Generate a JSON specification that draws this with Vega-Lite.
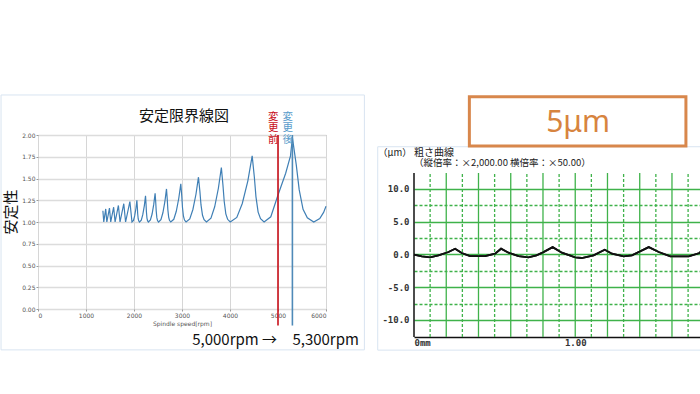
{
  "$schema": "https://vega.github.io/schema/vega-lite/v6.json",
  "background": "white",
  "padding": {"left": 0, "top": 93, "right": 0, "bottom": 0},
  "spacing": 11,
  "config": {"font": "Noto Sans", "view": {"stroke": null}},
  "datasets": {
    "lobes": [
      {"rpm": 1352, "stability": 1.13}, {"rpm": 1370, "stability": 1.0},
      {"rpm": 1411, "stability": 1.15}, {"rpm": 1434, "stability": 1.0},
      {"rpm": 1489, "stability": 1.16}, {"rpm": 1515, "stability": 1.0},
      {"rpm": 1576, "stability": 1.17}, {"rpm": 1606, "stability": 1.0},
      {"rpm": 1675, "stability": 1.19}, {"rpm": 1709, "stability": 1.0},
      {"rpm": 1787, "stability": 1.21}, {"rpm": 1825, "stability": 1.0},
      {"rpm": 1914, "stability": 1.235}, {"rpm": 1958, "stability": 1.0},
      {"rpm": 1989, "stability": 1.018}, {"rpm": 2014, "stability": 1.07}, {"rpm": 2040, "stability": 1.155},
      {"rpm": 2060, "stability": 1.25}, {"rpm": 2070, "stability": 1.17}, {"rpm": 2077, "stability": 1.095},
      {"rpm": 2087, "stability": 1.038}, {"rpm": 2098, "stability": 1.013}, {"rpm": 2114, "stability": 1.0},
      {"rpm": 2152, "stability": 1.021}, {"rpm": 2183, "stability": 1.084}, {"rpm": 2215, "stability": 1.186},
      {"rpm": 2240, "stability": 1.3}, {"rpm": 2251, "stability": 1.204}, {"rpm": 2259, "stability": 1.114},
      {"rpm": 2270, "stability": 1.045}, {"rpm": 2282, "stability": 1.015}, {"rpm": 2300, "stability": 1.0},
      {"rpm": 2342, "stability": 1.023}, {"rpm": 2377, "stability": 1.092}, {"rpm": 2412, "stability": 1.205},
      {"rpm": 2440, "stability": 1.33}, {"rpm": 2453, "stability": 1.224}, {"rpm": 2463, "stability": 1.125},
      {"rpm": 2476, "stability": 1.05}, {"rpm": 2490, "stability": 1.017}, {"rpm": 2511, "stability": 1.0},
      {"rpm": 2561, "stability": 1.027}, {"rpm": 2602, "stability": 1.106}, {"rpm": 2644, "stability": 1.236},
      {"rpm": 2677, "stability": 1.38}, {"rpm": 2693, "stability": 1.258}, {"rpm": 2705, "stability": 1.144},
      {"rpm": 2722, "stability": 1.057}, {"rpm": 2739, "stability": 1.019}, {"rpm": 2766, "stability": 1.0},
      {"rpm": 2829, "stability": 1.031}, {"rpm": 2881, "stability": 1.123}, {"rpm": 2933, "stability": 1.273},
      {"rpm": 2975, "stability": 1.44}, {"rpm": 2995, "stability": 1.299}, {"rpm": 3010, "stability": 1.167},
      {"rpm": 3030, "stability": 1.066}, {"rpm": 3052, "stability": 1.022}, {"rpm": 3085, "stability": 1.0},
      {"rpm": 3162, "stability": 1.036}, {"rpm": 3227, "stability": 1.144}, {"rpm": 3291, "stability": 1.319},
      {"rpm": 3343, "stability": 1.515}, {"rpm": 3373, "stability": 1.35}, {"rpm": 3396, "stability": 1.196},
      {"rpm": 3427, "stability": 1.077}, {"rpm": 3460, "stability": 1.026}, {"rpm": 3510, "stability": 1.0},
      {"rpm": 3603, "stability": 1.044}, {"rpm": 3681, "stability": 1.175}, {"rpm": 3758, "stability": 1.388},
      {"rpm": 3820, "stability": 1.625}, {"rpm": 3853, "stability": 1.425}, {"rpm": 3879, "stability": 1.238},
      {"rpm": 3913, "stability": 1.094}, {"rpm": 3950, "stability": 1.031}, {"rpm": 4005, "stability": 1.0},
      {"rpm": 4142, "stability": 1.053}, {"rpm": 4256, "stability": 1.213}, {"rpm": 4371, "stability": 1.471},
      {"rpm": 4462, "stability": 1.76}, {"rpm": 4507, "stability": 1.517}, {"rpm": 4541, "stability": 1.289},
      {"rpm": 4586, "stability": 1.114}, {"rpm": 4636, "stability": 1.038}, {"rpm": 4710, "stability": 1.0},
      {"rpm": 4850, "stability": 1.06}, {"rpm": 5000, "stability": 1.31}, {"rpm": 5160, "stability": 1.56},
      {"rpm": 5260, "stability": 1.76}, {"rpm": 5300, "stability": 1.97}, {"rpm": 5380, "stability": 1.66},
      {"rpm": 5442, "stability": 1.369}, {"rpm": 5522, "stability": 1.146}, {"rpm": 5611, "stability": 1.049},
      {"rpm": 5745, "stability": 1.0}, {"rpm": 5870, "stability": 1.04}, {"rpm": 5950, "stability": 1.11},
      {"rpm": 6000, "stability": 1.18}
    ],
    "profile": [
      {"mm": 0, "um": -0.05}, {"mm": 0.048, "um": -0.3}, {"mm": 0.1, "um": -0.46}, {"mm": 0.152, "um": -0.15},
      {"mm": 0.214, "um": 0.35}, {"mm": 0.255, "um": 0.86}, {"mm": 0.296, "um": 0.2}, {"mm": 0.348, "um": -0.26},
      {"mm": 0.441, "um": -0.26}, {"mm": 0.503, "um": 0.1}, {"mm": 0.54, "um": 0.86}, {"mm": 0.586, "um": 0.25},
      {"mm": 0.648, "um": -0.26}, {"mm": 0.71, "um": -0.46}, {"mm": 0.76, "um": -0.15}, {"mm": 0.8, "um": 0.3},
      {"mm": 0.86, "um": 1.1}, {"mm": 0.917, "um": 0.25}, {"mm": 1.0, "um": -0.46}, {"mm": 1.04, "um": -0.56},
      {"mm": 1.114, "um": -0.15}, {"mm": 1.183, "um": 0.71}, {"mm": 1.228, "um": 0.1}, {"mm": 1.3, "um": -0.3},
      {"mm": 1.352, "um": -0.15}, {"mm": 1.456, "um": 1.1}, {"mm": 1.518, "um": 0.35}, {"mm": 1.59, "um": -0.3},
      {"mm": 1.704, "um": -0.3}, {"mm": 1.77, "um": 0.2}, {"mm": 1.78, "um": 0.45}
    ],
    "vgrid": [
      {"pos": 0.1}, {"pos": 0.2}, {"pos": 0.3}, {"pos": 0.4}, {"pos": 0.5}, {"pos": 0.6},
      {"pos": 0.7}, {"pos": 0.8}, {"pos": 0.9}, {"pos": 1.0}, {"pos": 1.1}, {"pos": 1.2},
      {"pos": 1.3}, {"pos": 1.4}, {"pos": 1.5}, {"pos": 1.6}, {"pos": 1.7}
    ]
  },
  "hconcat": [
    {
      "width": 288,
      "height": 174,
      "view": {"stroke": "#9a9a9a", "strokeWidth": 1},
      "layer": [
        {
          "data": {"name": "lobes"},
          "mark": {"type": "line", "color": "#3f7fb5", "strokeWidth": 1.2},
          "encoding": {
            "x": {
              "field": "rpm", "type": "quantitative",
              "scale": {"domain": [0, 6000], "nice": false, "zero": false},
              "axis": {
                "title": "Spindle speed[rpm]", "titleFont": "DejaVu Sans", "titleFontSize": 6, "titleFontWeight": "normal",
                "titleColor": "#555", "titlePadding": 2,
                "values": [0, 1000, 2000, 3000, 4000, 5000, 6000], "tickCount": 30, "format": "d", "labelOverlap": false,
                "labelFont": "DejaVu Sans", "labelFontSize": 6, "labelColor": "#555", "labelPadding": 1,
                "tickSize": 2, "tickColor": "#999", "domain": false,
                "grid": true, "gridColor": "#d6d6d6", "gridWidth": 1
              }
            },
            "y": {
              "field": "stability", "type": "quantitative",
              "scale": {"domain": [0, 2], "nice": false, "zero": false},
              "axis": {
                "title": null,
                "values": [0, 0.25, 0.5, 0.75, 1, 1.25, 1.5, 1.75, 2], "tickCount": 30, "format": ".2f", "labelOverlap": false,
                "labelFont": "DejaVu Sans", "labelFontSize": 6, "labelColor": "#555", "labelPadding": 1,
                "tickSize": 2, "tickColor": "#999", "domain": false,
                "grid": true, "gridColor": "#dcdcdc", "gridWidth": 1.3
              }
            }
          }
        },
        {
          "data": {"values": [{}]},
          "mark": {"type": "rect", "filled": false, "stroke": "#d8e4f1", "strokeWidth": 1, "clip": false},
          "encoding": {
            "x": {"datum": -770, "type": "quantitative"},
            "x2": {"datum": 6800},
            "y": {"datum": -0.47, "type": "quantitative"},
            "y2": {"datum": 2.46}
          }
        },
        {
          "data": {"values": [{}]},
          "mark": {"type": "rule", "color": "#c8101a", "strokeWidth": 1.6, "clip": false},
          "encoding": {
            "x": {"datum": 5000, "type": "quantitative"},
            "y": {"datum": -0.19, "type": "quantitative"},
            "y2": {"datum": 2.0}
          }
        },
        {
          "data": {"values": [{}]},
          "mark": {"type": "rule", "color": "#4f8ab8", "strokeWidth": 1.6, "clip": false},
          "encoding": {
            "x": {"datum": 5300, "type": "quantitative"},
            "y": {"datum": -0.19, "type": "quantitative"},
            "y2": {"datum": 2.0}
          }
        },
        {
          "data": {"values": [{}]},
          "mark": {"type": "text", "text": "安定限界線図", "font": "Noto Sans CJK JP", "fontSize": 15, "color": "#111", "align": "center", "baseline": "middle", "clip": false},
          "encoding": {
            "x": {"datum": 3041, "type": "quantitative"},
            "y": {"datum": 2.218, "type": "quantitative"}
          }
        },
        {
          "data": {"values": [{}]},
          "mark": {"type": "text", "text": "安定性", "font": "Noto Sans CJK JP", "fontSize": 15, "color": "#111", "angle": 270, "align": "center", "baseline": "middle", "clip": false},
          "encoding": {
            "x": {"datum": -568, "type": "quantitative"},
            "y": {"datum": 1.115, "type": "quantitative"}
          }
        },
        {
          "data": {"values": [{}]},
          "mark": {"type": "text", "text": "変\n更\n前", "lineBreak": "\n", "lineHeight": 11.5, "font": "Noto Sans CJK JP", "fontSize": 10.5, "color": "#c8101a", "align": "center", "baseline": "middle", "clip": false},
          "encoding": {
            "x": {"datum": 4903, "type": "quantitative"},
            "y": {"datum": 2.207, "type": "quantitative"}
          }
        },
        {
          "data": {"values": [{}]},
          "mark": {"type": "text", "text": "変\n更\n後", "lineBreak": "\n", "lineHeight": 11.5, "font": "Noto Sans CJK JP", "fontSize": 10.5, "color": "#5a9ccb", "align": "center", "baseline": "middle", "clip": false},
          "encoding": {
            "x": {"datum": 5205, "type": "quantitative"},
            "y": {"datum": 2.207, "type": "quantitative"}
          }
        },
        {
          "data": {"values": [{}]},
          "mark": {"type": "text", "text": "5,000rpm →", "font": "Noto Sans CJK JP", "fontSize": 15, "color": "#111", "align": "right", "baseline": "middle", "dx": -1, "clip": false},
          "encoding": {
            "x": {"datum": 5000, "type": "quantitative"},
            "y": {"datum": -0.362, "type": "quantitative"}
          }
        },
        {
          "data": {"values": [{}]},
          "mark": {"type": "text", "text": "5,300rpm", "font": "Noto Sans CJK JP", "fontSize": 15, "color": "#111", "align": "left", "baseline": "middle", "clip": false},
          "encoding": {
            "x": {"datum": 5300, "type": "quantitative"},
            "y": {"datum": -0.362, "type": "quantitative"}
          }
        }
      ]
    },
    {
      "width": 287,
      "height": 202,
      "view": {"stroke": null},
      "layer": [
        {
          "data": {"name": "profile"},
          "mark": {"type": "line", "color": "#111", "strokeWidth": 1.8},
          "encoding": {
            "x": {
              "field": "mm", "type": "quantitative",
              "scale": {"domain": [0, 1.78], "nice": false, "zero": false},
              "axis": {
                "title": null,
                "values": [0, 1], "tickCount": 30,
                "labelExpr": "datum.value == 0 ? '0mm' : '1.00'",
                "labelFont": "DejaVu Sans Mono", "labelFontSize": 9, "labelFontWeight": "bold", "labelColor": "#333", "labelPadding": 1,
                "ticks": false, "domain": true, "domainColor": "#111", "domainWidth": 1.5, "grid": false
              }
            },
            "y": {
              "field": "um", "type": "quantitative",
              "scale": {"domain": [-12.6, 18.19], "nice": false, "zero": false},
              "axis": {
                "title": null,
                "values": [-10, -7.5, -5, -2.5, 0, 2.5, 5, 7.5, 10], "tickCount": 30,
                "labelExpr": "datum.value % 5 == 0 ? (datum.value < 0 ? '-' : '') + format(abs(datum.value), '.1f') : ''",
                "labelFont": "DejaVu Sans Mono", "labelFontSize": 9, "labelFontWeight": "bold", "labelColor": "#333", "labelPadding": 5,
                "ticks": false, "domain": false,
                "grid": true, "gridColor": "#3fb24a", "gridWidth": 1.3,
                "gridDash": {"condition": {"test": "datum.value % 5 != 0", "value": [3, 2]}, "value": []}
              }
            }
          }
        },
        {
          "data": {"values": [{}]},
          "mark": {"type": "rect", "filled": false, "stroke": "#d8e4f1", "strokeWidth": 1, "clip": false},
          "encoding": {
            "x": {"datum": -0.225, "type": "quantitative"},
            "x2": {"datum": 1.78},
            "y": {"datum": -14.6, "type": "quantitative"},
            "y2": {"datum": 16.4}
          }
        },
        {
          "data": {"values": [{}]},
          "mark": {"type": "rect", "fill": "white", "stroke": "#d8874c", "strokeWidth": 3, "clip": false},
          "encoding": {
            "x": {"datum": 0.3434, "type": "quantitative"},
            "x2": {"datum": 1.6865},
            "y": {"datum": 16.53, "type": "quantitative"},
            "y2": {"datum": 24.02}
          }
        },
        {
          "data": {"values": [{}]},
          "mark": {"type": "text", "text": "5μm", "font": "Noto Sans", "fontSize": 30, "color": "#d7843f", "align": "center", "baseline": "middle", "clip": false},
          "encoding": {
            "x": {"datum": 1.018, "type": "quantitative"},
            "y": {"datum": 20.0, "type": "quantitative"}
          }
        },
        {
          "data": {"name": "vgrid"},
          "transform": [{"filter": "round(datum.pos * 10) % 2 == 0"}],
          "mark": {"type": "rule", "color": "#3fb24a", "strokeWidth": 1.3},
          "encoding": {
            "x": {"field": "pos", "type": "quantitative"},
            "y": {"datum": -12.6, "type": "quantitative"},
            "y2": {"datum": 12.4}
          }
        },
        {
          "data": {"name": "vgrid"},
          "transform": [{"filter": "round(datum.pos * 10) % 2 == 1"}],
          "mark": {"type": "rule", "color": "#3fb24a", "strokeWidth": 1.3, "strokeDash": [3, 2]},
          "encoding": {
            "x": {"field": "pos", "type": "quantitative"},
            "y": {"datum": -12.6, "type": "quantitative"},
            "y2": {"datum": 12.4}
          }
        },
        {
          "data": {"values": [{}]},
          "mark": {"type": "rule", "color": "#111", "strokeWidth": 1.5},
          "encoding": {
            "x": {"datum": 0, "type": "quantitative"},
            "y": {"datum": -12.6, "type": "quantitative"},
            "y2": {"datum": 12.4}
          }
        },
        {
          "data": {"name": "profile"},
          "mark": {"type": "line", "color": "#111", "strokeWidth": 1.8},
          "encoding": {
            "x": {"field": "mm", "type": "quantitative"},
            "y": {"field": "um", "type": "quantitative"}
          }
        },
        {
          "data": {"values": [{}]},
          "mark": {"type": "text", "text": "（μm）", "font": "Noto Sans CJK JP", "fontSize": 9.5, "color": "#222", "align": "left", "baseline": "middle", "clip": false},
          "encoding": {
            "x": {"datum": -0.223, "type": "quantitative"},
            "y": {"datum": 15.47, "type": "quantitative"}
          }
        },
        {
          "data": {"values": [{}]},
          "mark": {"type": "text", "text": "粗さ曲線", "font": "Noto Sans CJK JP", "fontSize": 10, "color": "#222", "align": "left", "baseline": "middle", "clip": false},
          "encoding": {
            "x": {"datum": 0.0, "type": "quantitative"},
            "y": {"datum": 15.47, "type": "quantitative"}
          }
        },
        {
          "data": {"values": [{}]},
          "mark": {"type": "text", "text": "（縦倍率：×2,000.00 横倍率：×50.00）", "font": "Noto Sans CJK JP", "fontSize": 9.5, "color": "#222", "align": "left", "baseline": "middle", "clip": false},
          "encoding": {
            "x": {"datum": 0.0, "type": "quantitative"},
            "y": {"datum": 13.86, "type": "quantitative"}
          }
        }
      ]
    }
  ]
}
